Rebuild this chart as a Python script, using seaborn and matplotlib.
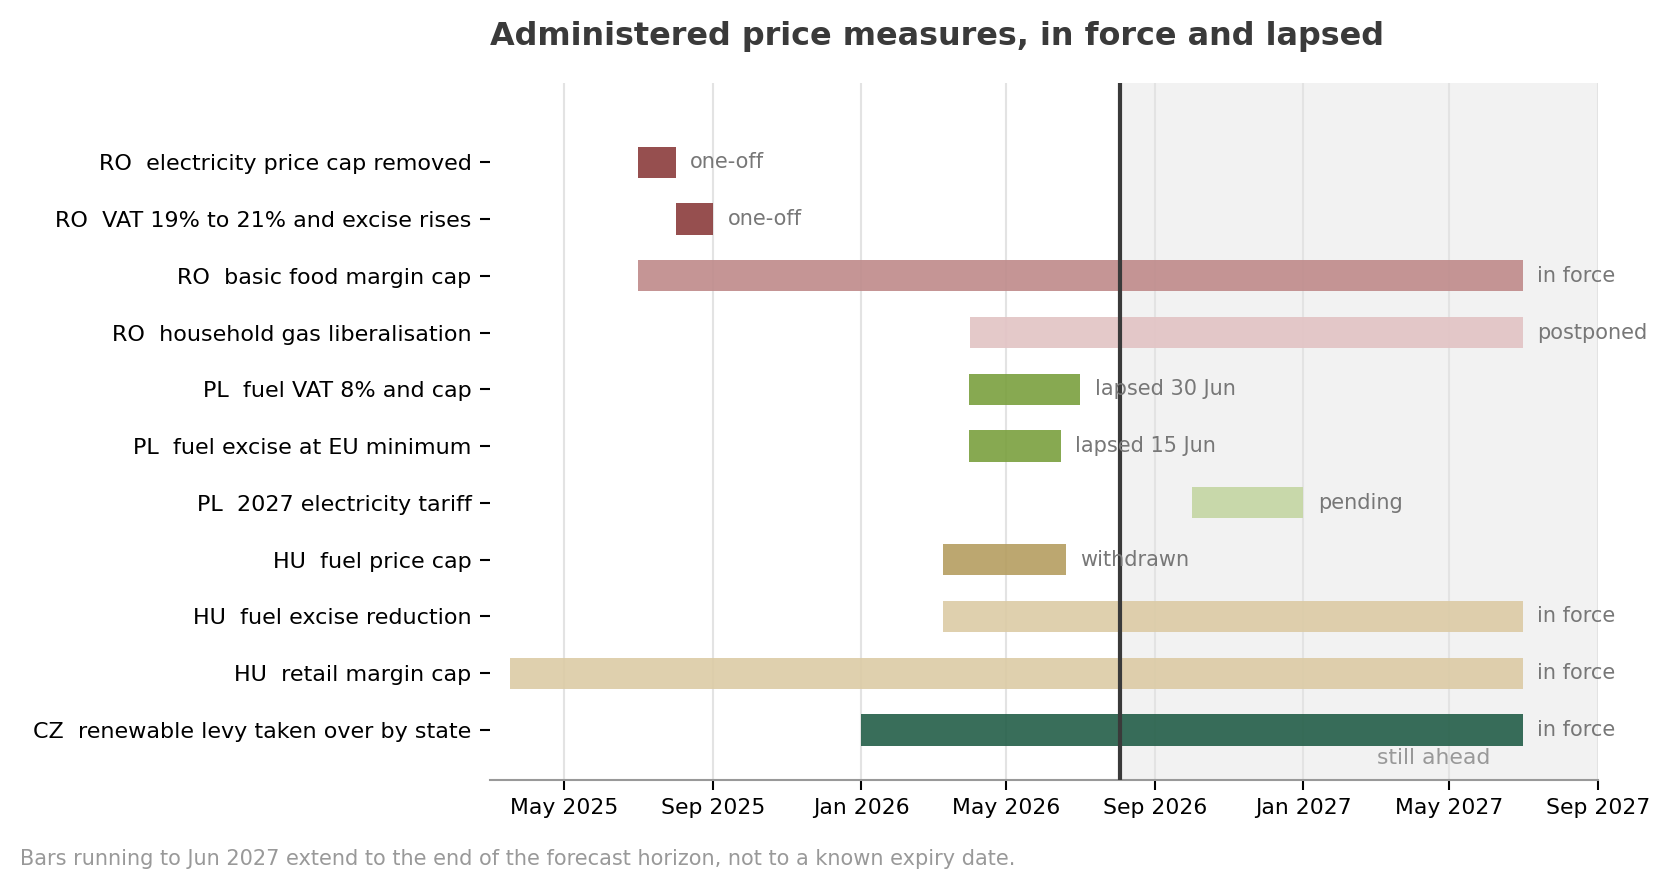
import numpy as np
import pandas as pd
import matplotlib
matplotlib.use("Agg")
import matplotlib.pyplot as plt
import matplotlib.dates as mdates
import seaborn as sns

# measures, top to bottom
labels = [
    "RO  electricity price cap removed",
    "RO  VAT 19% to 21% and excise rises",
    "RO  basic food margin cap",
    "RO  household gas liberalisation",
    "PL  fuel VAT 8% and cap",
    "PL  fuel excise at EU minimum",
    "PL  2027 electricity tariff",
    "HU  fuel price cap",
    "HU  fuel excise reduction",
    "HU  retail margin cap",
    "CZ  renewable levy taken over by state",
]
starts = ["2025-07-01", "2025-08-01", "2025-07-01", "2026-04-01", "2026-03-31", "2026-03-31",
          "2026-10-01", "2026-03-10", "2026-03-10", "2025-03-17", "2026-01-01"]
ends = ["2025-08-01", "2025-09-01", "2027-07-01", "2027-07-01", "2026-07-01", "2026-06-15",
        "2027-01-01", "2026-06-19", "2027-07-01", "2027-07-01", "2027-07-01"]
status = ["one-off", "one-off", "in force", "postponed", "lapsed 30 Jun", "lapsed 15 Jun",
          "pending", "withdrawn", "in force", "in force", "in force"]
colors = ["#8b3c3c", "#8b3c3c", "#bf8a8a", "#e2c3c4", "#7aa03e", "#7aa03e",
          "#c4d6a2", "#b59e60", "#dccba5", "#dccba5", "#235e48"]

today = "2026-08-03"
x_start, x_end = "2025-03-01", "2027-09-01"

df = pd.DataFrame({"label": labels, "start": pd.to_datetime(starts),
                   "end": pd.to_datetime(ends), "status": status, "color": colors})
df["y"] = np.arange(len(df))

sns.set_theme(style="white")
plt.rcParams["font.family"] = ["DejaVu Sans"]

fig = plt.figure(figsize=(11.153, 5.94), dpi=150)
ax = fig.add_axes([0.293, 0.1246, 0.662, 0.782])

s = mdates.date2num(df["start"])
e = mdates.date2num(df["end"])
ax.barh(df["y"], e - s, left=s, height=0.55, color=df["color"], alpha=0.9,
        linewidth=0, zorder=2)

for yy, xe, txt in zip(df["y"], e, df["status"]):
    ax.annotate(txt, (xe, yy), xytext=(7, 0), textcoords="offset points",
                ha="left", va="center", fontsize=10, color="#777777", zorder=4)

t = mdates.date2num(pd.Timestamp(today))
ax.axvspan(t, mdates.date2num(pd.Timestamp(x_end)), color="#f2f2f2", zorder=0.2, lw=0)
ax.axvline(t, color="#3a3a3a", lw=2, zorder=3)
ax.text(0.852, 0.031, "still ahead", transform=ax.transAxes, ha="center", va="center",
        fontsize=10.5, color="#999999")

ax.set_xlim(pd.Timestamp(x_start), pd.Timestamp(x_end))
ax.set_ylim(10.88, -1.39)
ax.xaxis.set_major_locator(mdates.MonthLocator(bymonth=[1, 5, 9]))
ax.xaxis.set_major_formatter(mdates.DateFormatter("%b %Y"))
ax.set_yticks(df["y"])
ax.set_yticklabels(df["label"])
ax.tick_params(axis="both", labelsize=10.5, colors="black", length=5, width=1,
               left=True, bottom=True)
ax.tick_params(axis="y", labelsize=10.7, pad=4)
ax.set_axisbelow(True)
ax.grid(axis="x", color="#e3e3e3", lw=1)
ax.grid(axis="y", visible=False)
sns.despine(ax=ax, left=True)
ax.spines["bottom"].set_color("#999999")
ax.spines["bottom"].set_linewidth(1)
ax.set_facecolor("white")

ax.set_title("Administered price measures, in force and lapsed", loc="left",
             fontsize=15.3, fontweight="bold", color="#3a3a3a", pad=18.5)
fig.text(0.012, 0.036, "Bars running to Jun 2027 extend to the end of the forecast horizon, "
         "not to a known expiry date.", fontsize=10, color="#999999", ha="left", va="center")

fig.savefig("out.png", dpi=150, facecolor="white")
